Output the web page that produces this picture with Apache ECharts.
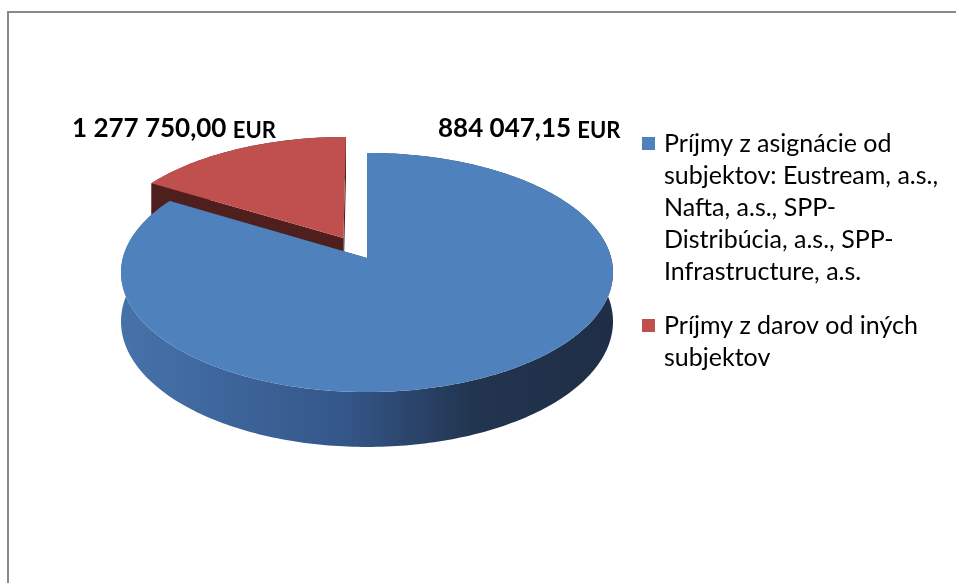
<!DOCTYPE html>
<html><head><meta charset="utf-8">
<script src="https://cdn.jsdelivr.net/npm/echarts@6/dist/echarts.min.js"></script>
<style>html,body{margin:0;padding:0;background:#fff}#c{width:956px;height:583px}</style>
</head><body><div id="c"></div>
<script>
// ---- data ----
const categories = [
  'Príjmy z asignácie od subjektov: Eustream, a.s., Nafta, a.s., SPP-Distribúcia, a.s., SPP-Infrastructure, a.s.',
  'Príjmy z darov od iných subjektov'
];
const shares = [83.6, 16.4];            // share of the pie (%)
const labelNumbers = ['884 047,15', '1 277 750,00'];
const labelUnit = 'EUR';
const legendLines = [
  ['Príjmy z asignácie od', 'subjektov: Eustream, a.s.,', 'Nafta, a.s., SPP-', 'Distribúcia, a.s., SPP-', 'Infrastructure, a.s.'],
  ['Príjmy z darov od iných', 'subjektov']
];

// ---- style ----
const topColors = ['#4f81bd', '#c0504d'];
const sideColors = [
  ['#4672aa', '#34578a', '#22344f', '#1f2e46'],
  ['#6e2a28', '#5a2221', '#4a1c1b', '#451a19']
];
const radialColors = ['#2c4870', '#4f1f1e'];
const explode = [0, 0.2];

// pie projection (perspective tilted disc)
const P = {cx: 367, cy: 258, R: 244.2, S: 117.8, k: 0.121, H: 48.3};
function proj(u, v, h) {
  const w = 1 - P.k * v;
  return [P.cx + P.R * u / w, P.cy + (P.S * v + P.H * h) / w];
}

const total = shares.reduce((a, b) => a + b, 0);

function makeRender(idx) {
  return function (params, api) {
    let start = 0;
    for (let j = 0; j < idx; j++) start += shares[j];
    const val = api.value(0);
    const a0 = start / total * Math.PI * 2;
    const a1 = (start + val) / total * Math.PI * 2;
    const mid = (a0 + a1) / 2;
    const ou = explode[idx] * Math.sin(mid), ov = -explode[idx] * Math.cos(mid);
    const n = Math.max(8, Math.ceil((a1 - a0) / (Math.PI * 2) * 360));
    const topArc = [], botArc = [];
    for (let i = 0; i <= n; i++) {
      const t = a0 + (a1 - a0) * i / n;
      const u = ou + Math.sin(t), v = ov - Math.cos(t);
      topArc.push(proj(u, v, 0));
      botArc.push(proj(u, v, 1));
    }
    const c0 = proj(ou, ov, 0), c1 = proj(ou, ov, 1);
    const wall = topArc.concat(botArc.slice().reverse());
    const sc = sideColors[idx];
    const children = [
      {type: 'polygon', shape: {points: wall}, style: {
        fill: new echarts.graphic.LinearGradient(0, 0, 1, 0, [
          {offset: 0, color: sc[0]}, {offset: 0.45, color: sc[1]},
          {offset: 0.72, color: sc[2]}, {offset: 1, color: sc[3]}])
      }},
      {type: 'polygon', shape: {points: [c0, topArc[0], botArc[0], c1]}, style: {fill: radialColors[idx]}},
      {type: 'polygon', shape: {points: [c0, topArc[n], botArc[n], c1]}, style: {fill: radialColors[idx]}},
      {type: 'polygon', shape: {points: [c0].concat(topArc)}, style: {fill: topColors[idx]}}
    ];
    return {type: 'group', children: children};
  };
}

const rich = {
  t: {fontFamily: 'Lato', fontSize: 25, lineHeight: 32, color: '#000'},
  g: {width: 9, height: 13},
  ind: {width: 22, height: 13},
  sq0: {width: 13, height: 13, backgroundColor: topColors[0]},
  sq1: {width: 13, height: 13, backgroundColor: topColors[1]}
};

const labelRich = {
  n: {fontFamily: 'Lato', fontWeight: 'bold', fontSize: 26, lineHeight: 30, color: '#000', verticalAlign: 'bottom'},
  u: {fontFamily: 'Lato', fontWeight: 'bold', fontSize: 22, lineHeight: 30, color: '#000', verticalAlign: 'bottom'}
};

const chart = echarts.init(document.getElementById('c'), null, {renderer: 'canvas'});
chart.setOption({
  animation: false,
  backgroundColor: '#fff',
  legend: {
    orient: 'vertical',
    left: 637, top: 131,
    padding: 0,
    itemGap: 29,
    icon: 'none',
    itemWidth: 0, itemHeight: 14,
    selectedMode: false,
    data: categories,
    formatter: function (name) {
      const i = categories.indexOf(name);
      return legendLines[i].map((l, j) => j === 0 ? '{sq' + i + '|}{g|}{t|' + l + '}' : '{ind|}{t|' + l + '}').join('\n');
    },
    textStyle: {rich: rich}
  },
  graphic: [
    {type: 'rect', shape: {x: 8, y: 12, width: 1200, height: 1000}, style: {fill: 'none', stroke: '#898989', lineWidth: 2}, silent: true},
    {type: 'text', x: 72, y: 127, style: {text: '{n|' + labelNumbers[1] + ' }{u|' + labelUnit + '}', rich: labelRich, verticalAlign: 'middle'}},
    {type: 'text', x: 438, y: 127, style: {text: '{n|' + labelNumbers[0] + ' }{u|' + labelUnit + '}', rich: labelRich, verticalAlign: 'middle'}}
  ],
  series: categories.map((name, i) => ({
    type: 'custom',
    name: name,
    coordinateSystem: 'none',
    z: i === 0 ? 3 : 2,
    itemStyle: {color: topColors[i]},
    data: [[shares[i]]],
    renderItem: makeRender(i)
  }))
});
</script>
</body></html>
